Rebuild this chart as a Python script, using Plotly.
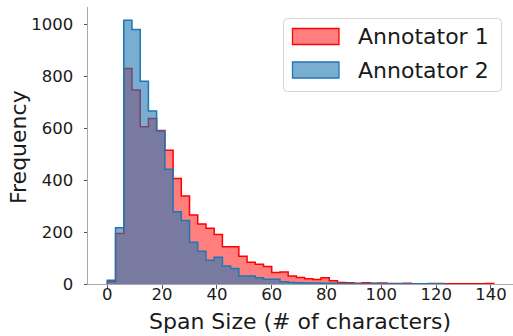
import plotly.graph_objects as go

# ---- data (bin counts) ----
bin_width = 3
annotator1_counts = [10, 195, 831, 748, 606, 638, 592, 516, 407, 339, 266, 231, 215, 191,
                     144, 144, 107, 84, 76, 67, 44, 46, 31, 25, 20, 17, 24, 13,
                     6, 5, 3, 5, 3, 4, 2, 2, 3, 1, 1, 2, 2, 1, 1, 1, 1, 1, 2]
annotator2_counts = [14, 217, 1017, 981, 782, 667, 590, 442, 279, 245, 161, 126, 92, 103,
                     69, 60, 31, 31, 24, 18, 18, 9,
                     6, 5, 4, 4, 3, 3, 2, 2, 1, 1, 2, 1, 1, 1, 1, 1, 1, 1, 1]
series_names = ["Annotator 1", "Annotator 2"]
x_ticks = [0, 20, 40, 60, 80, 100, 120, 140]
y_ticks = [0, 200, 400, 600, 800, 1000]
x_title = "Span Size (# of characters)"
y_title = "Frequency"


def step_xy(counts, width):
    edges = [i * width for i in range(len(counts) + 1)]
    xs = [edges[0]] + edges[:-1] + [edges[-1]]
    ys = [0] + list(counts) + [0]
    return xs, ys


W, H = 513, 336
L, R, T, B = 88, 0, 7, 52
PW, PH = W - L - R, H - T - B

fig = go.Figure()
x1, y1 = step_xy(annotator1_counts, bin_width)
x2, y2 = step_xy(annotator2_counts, bin_width)
fig.add_trace(go.Scatter(x=x1, y=y1, mode="lines", line=dict(shape="hv", color="#ff0000", width=1.5),
                         fill="tozeroy", fillcolor="rgba(255,0,0,0.5)", name=series_names[0],
                         showlegend=False, hoverinfo="skip"))
fig.add_trace(go.Scatter(x=x2, y=y2, mode="lines", line=dict(shape="hv", color="#1f77b4", width=1.5),
                         fill="tozeroy", fillcolor="rgba(31,119,180,0.6)", name=series_names[1],
                         showlegend=False, hoverinfo="skip"))

xmax = len(annotator1_counts) * bin_width
pad = 0.05 * xmax
ymax = max(max(annotator1_counts), max(annotator2_counts)) * 1.05

font_family = "DejaVu Sans"
fig.update_layout(
    width=W, height=H,
    margin=dict(l=L, r=R, t=T, b=B, pad=0, autoexpand=False),
    paper_bgcolor="white", plot_bgcolor="white",
    font=dict(family=font_family, color="#1a1a1a"),
    xaxis=dict(range=[-pad, xmax + pad], tickvals=x_ticks, showgrid=False, zeroline=False,
               showline=True, linecolor="#a8a8a8", linewidth=1, automargin=False,
               ticks="outside", ticklen=3.5, tickwidth=0.9, tickcolor="#444",
               ticklabelstandoff=-8, tickfont=dict(size=16.5)),
    yaxis=dict(range=[0, ymax], tickvals=y_ticks, showgrid=False, zeroline=False,
               showline=True, linecolor="#a8a8a8", linewidth=1, automargin=False,
               ticks="outside", ticklen=3.5, tickwidth=0.9, tickcolor="#444",
               ticklabelstandoff=7, tickfont=dict(size=16.5)),
)


def px(xp):
    return (xp - L) / PW


def py(yp):
    return (T + PH - yp) / PH


# axis titles
fig.add_annotation(xref="paper", yref="paper", x=px(300), y=py(321), text=x_title, showarrow=False,
                   xanchor="center", yanchor="middle", font=dict(size=22, family=font_family, color="#1a1a1a"))
fig.add_annotation(xref="paper", yref="paper", x=px(18), y=py(147), text=y_title, showarrow=False,
                   textangle=-90, xanchor="center", yanchor="middle",
                   font=dict(size=22, family=font_family, color="#1a1a1a"))

# ---- manual legend (matplotlib-like) ----
bx0, bx1, by0, by1, r = 283.5, 501.5, 18.5, 91.5, 4
path = (f"M {px(bx0 + r)},{py(by0)} L {px(bx1 - r)},{py(by0)} Q {px(bx1)},{py(by0)} {px(bx1)},{py(by0 + r)} "
        f"L {px(bx1)},{py(by1 - r)} Q {px(bx1)},{py(by1)} {px(bx1 - r)},{py(by1)} "
        f"L {px(bx0 + r)},{py(by1)} Q {px(bx0)},{py(by1)} {px(bx0)},{py(by1 - r)} "
        f"L {px(bx0)},{py(by0 + r)} Q {px(bx0)},{py(by0)} {px(bx0 + r)},{py(by0)} Z")
fig.add_shape(type="path", path=path, xref="paper", yref="paper",
              line=dict(color="#d6d6d6", width=1), fillcolor="rgba(255,255,255,0.8)", layer="above")
legend_rows = [(28.5, 44.5, "rgba(255,0,0,0.5)", "#ff0000"),
               (62, 78, "rgba(31,119,180,0.6)", "#1f77b4")]
for (ya, yb, fc, lc), name in zip(legend_rows, series_names):
    fig.add_shape(type="rect", xref="paper", yref="paper", x0=px(292.5), x1=px(339), y0=py(yb), y1=py(ya),
                  fillcolor=fc, line=dict(color=lc, width=1.3), layer="above")
    fig.add_annotation(xref="paper", yref="paper", x=px(356), y=py((ya + yb) / 2), text=name,
                       showarrow=False, xanchor="left", yanchor="middle",
                       font=dict(size=22, family=font_family, color="#1a1a1a"))

fig.write_html("out.html", config={"displayModeBar": False, "staticPlot": True},
               post_script="document.body.style.margin='0';document.body.style.padding='0';"
                           "document.body.style.overflow='hidden';")
